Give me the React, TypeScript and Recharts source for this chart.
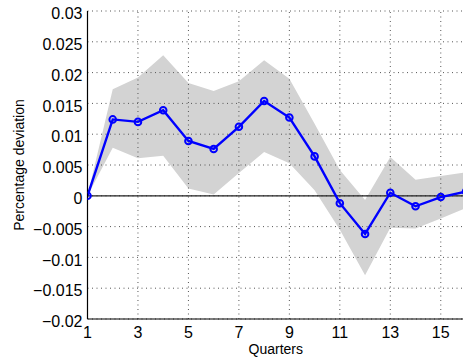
import React from "react";
import {
  ComposedChart,
  Area,
  Line,
  XAxis,
  YAxis,
  ReferenceLine,
  Label,
} from "recharts";

const quarters = [1, 2, 3, 4, 5, 6, 7, 8, 9, 10, 11, 12, 13, 14, 15, 16];
const response = [
  0, 0.0124, 0.012, 0.0139, 0.0089, 0.0076, 0.0112, 0.0154, 0.0127, 0.0064,
  -0.0012, -0.0062, 0.0005, -0.0017, -0.0002, 0.0007,
];
const upperBand = [
  0, 0.0173, 0.0192, 0.0228, 0.0183, 0.017, 0.0186, 0.022, 0.019, 0.0117,
  0.0042, -0.0007, 0.0063, 0.0026, 0.0032, 0.0038,
];
const lowerBand = [
  0, 0.0078, 0.0061, 0.0065, 0.0012, 0.0002, 0.0037, 0.0071, 0.0053, 0.0009,
  -0.0055, -0.0129, -0.0052, -0.0053, -0.0037, -0.002,
];
const xTicks = [1, 3, 5, 7, 9, 11, 13, 15];
const yTicks = [
  -0.02, -0.015, -0.01, -0.005, 0, 0.005, 0.01, 0.015, 0.02, 0.025, 0.03,
];

const FONT = "'Liberation Sans', Arial, Helvetica, sans-serif";
const BLUE = "#0000ff";
const GRID = "#555";

const data = quarters.map((q, i) => ({
  q,
  irf: response[i],
  band: [lowerBand[i], upperBand[i]],
}));

// matlab style: real minus sign, no trailing zeros
const fmtY = (v: number) => {
  if (v === 0) return "0";
  return v < 0 ? "\u2212" + String(Math.abs(v)) : String(v);
};

const YTick = ({ x, y, payload }: any) => (
  <text
    x={x}
    y={y + 2.5}
    dy="0.355em"
    textAnchor="end"
    fontSize={16}
    fontFamily={FONT}
    fill="#000"
  >
    {fmtY(payload.value)}
  </text>
);

const XTick = ({ x, y, payload }: any) => (
  <text
    x={x}
    y={y}
    dy="0.71em"
    textAnchor="middle"
    fontSize={16}
    fontFamily={FONT}
    fill="#000"
  >
    {payload.value}
  </text>
);

export default function App() {
  return (
    <div
      style={{
        position: "absolute",
        left: 0,
        top: 0,
        width: 463,
        height: 362,
        overflow: "hidden",
        background: "#fff",
      }}
    >
      <ComposedChart
        width={470}
        height={362}
        data={data}
        margin={{ top: 11, right: 4, bottom: 0, left: 0 }}
      >
        <XAxis
          dataKey="q"
          type="number"
          domain={[1, 16]}
          ticks={xTicks}
          allowDataOverflow
          height={43}
          tickLine={false}
          tickSize={6}
          tickMargin={2}
          axisLine={{ stroke: "#000", strokeWidth: 1.2 }}
          tick={<XTick />}
        >
          <Label
            content={({ viewBox }: any) => (
              <text
                x={viewBox.x + viewBox.width / 2 - 1}
                y={viewBox.y + 35}
                textAnchor="middle"
                fontSize={14}
                fontFamily={FONT}
                fill="#000"
              >
                Quarters
              </text>
            )}
          />
        </XAxis>
        <YAxis
          type="number"
          domain={[-0.02, 0.03]}
          ticks={yTicks}
          allowDataOverflow
          width={87.5}
          tickLine={false}
          tickSize={3}
          tickMargin={2}
          axisLine={{ stroke: "#000", strokeWidth: 1.2 }}
          tick={<YTick />}
        >
          <Label
            content={({ viewBox }: any) => {
              const cx = viewBox.x + 18.7;
              const cy = viewBox.y + viewBox.height / 2;
              return (
                <text
                  x={cx}
                  y={cy}
                  transform={`rotate(-90, ${cx}, ${cy})`}
                  textAnchor="middle"
                  dominantBaseline="central"
                  fontSize={14}
                  fontFamily={FONT}
                  fill="#000"
                >
                  Percentage deviation
                </text>
              );
            }}
          />
        </YAxis>

        <Area
          dataKey="band"
          type="linear"
          stroke="none"
          fill="#d3d3d3"
          fillOpacity={1}
          isAnimationActive={false}
        />

        {/* dotted grid sits above the shaded band */}
        {yTicks.map((v) => (
          <ReferenceLine
            key={`gy-${v}`}
            y={v}
            stroke={GRID}
            strokeWidth={1}
            strokeDasharray="1 3.5"
          />
        ))}
        {xTicks.slice(1).map((v) => (
          <ReferenceLine
            key={`gx-${v}`}
            x={v}
            stroke={GRID}
            strokeWidth={1}
            strokeDasharray="1 3.5"
          />
        ))}
        <ReferenceLine y={0} stroke="#222" strokeWidth={1.3} />

        <Line
          dataKey="irf"
          type="linear"
          stroke={BLUE}
          strokeWidth={2.4}
          dot={{ r: 3.3, stroke: BLUE, strokeWidth: 2, fill: "none" }}
          isAnimationActive={false}
        />
      </ComposedChart>
    </div>
  );
}
